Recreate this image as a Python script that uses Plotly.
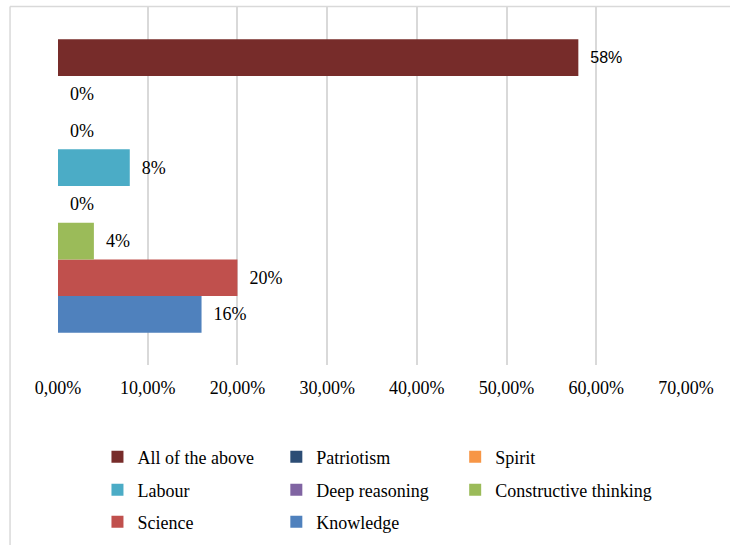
import plotly.graph_objects as go

# Series (bottom to top as drawn), values as shares
series = ["Knowledge", "Science", "Constructive thinking", "Deep reasoning",
          "Labour", "Spirit", "Patriotism", "All of the above"]
values = [0.16, 0.20, 0.04, 0.00, 0.08, 0.00, 0.00, 0.58]
colors = ["#4F81BD", "#C0504D", "#9BBB59", "#8064A2",
          "#4BACC6", "#F79646", "#2C4D75", "#772C2A"]
category = ["Q"]

x_ticks = [0, 0.1, 0.2, 0.3, 0.4, 0.5, 0.6, 0.7]

# legend grid slot (column, row) for each series
legend_slots = [(1, 2), (0, 2), (2, 1), (1, 1), (0, 1), (2, 0), (1, 0), (0, 0)]

SERIF = "Liberation Serif"

px_w, px_l, px_r = 730, 57.5, 686
px_t, px_b = 7, 365
pw = px_r - px_l
ph = px_b - px_t


def xp(px):
    return (px - px_l) / pw


def yp(py):
    return (px_b - py) / ph


col_px = [97, 276, 455]
row_px = [457, 490, 522]

fig = go.Figure()
legends = {}
for i, (name, v, c, slot) in enumerate(zip(series, values, colors, legend_slots)):
    label_font = dict(family=SERIF, size=18, color="#000000")
    if name == "All of the above":
        label_font = dict(family="Liberation Sans", size=16, color="#000000")
    key = "legend" if i == 0 else f"legend{i + 1}"
    fig.add_trace(go.Bar(
        y=category, x=[v], name=name, orientation="h",
        marker=dict(color=c, line=dict(width=0)),
        texttemplate="\u00a0\u00a0%{x:.0%}", textposition="outside",
        textfont=label_font, cliponaxis=False,
        legend=key, showlegend=True, hoverinfo="skip",
    ))
    col, row = slot
    legends[key] = dict(
        x=xp(col_px[col]), y=yp(row_px[row]),
        xanchor="left", yanchor="middle", orientation="v",
        font=dict(family=SERIF, size=18, color="#000000"),
        bgcolor="rgba(0,0,0,0)", itemclick=False, itemdoubleclick=False,
    )

fig.update_layout(
    width=730, height=545, showlegend=True,
    margin=dict(l=px_l, r=px_w - px_r, t=px_t, b=545 - px_b, autoexpand=False),
    paper_bgcolor="white", plot_bgcolor="white",
    barmode="group", bargap=0.18, bargroupgap=0,
    separators=", ",
    font=dict(family=SERIF, size=18, color="#000000"),
    xaxis=dict(
        range=[0, 0.7], tickvals=x_ticks, tickformat=".2%",
        showgrid=True, gridcolor="#D9D9D9", gridwidth=2,
        zeroline=False, showline=False, ticks="",
        tickfont=dict(family=SERIF, size=18, color="#000000"),
        ticklabelstandoff=10,
    ),
    yaxis=dict(visible=False, range=[-0.5, 0.5]),
    shapes=[
        # outer chart frame (top and left edges)
        dict(type="line", xref="paper", yref="paper",
             x0=xp(9.5), x1=xp(740), y0=yp(6.5), y1=yp(6.5),
             line=dict(color="#D9D9D9", width=1.5)),
        dict(type="line", xref="paper", yref="paper",
             x0=xp(9.5), x1=xp(9.5), y0=yp(6.5), y1=yp(560),
             line=dict(color="#D9D9D9", width=1.5)),
    ],
    **legends,
)

fig.write_html("out.html")
